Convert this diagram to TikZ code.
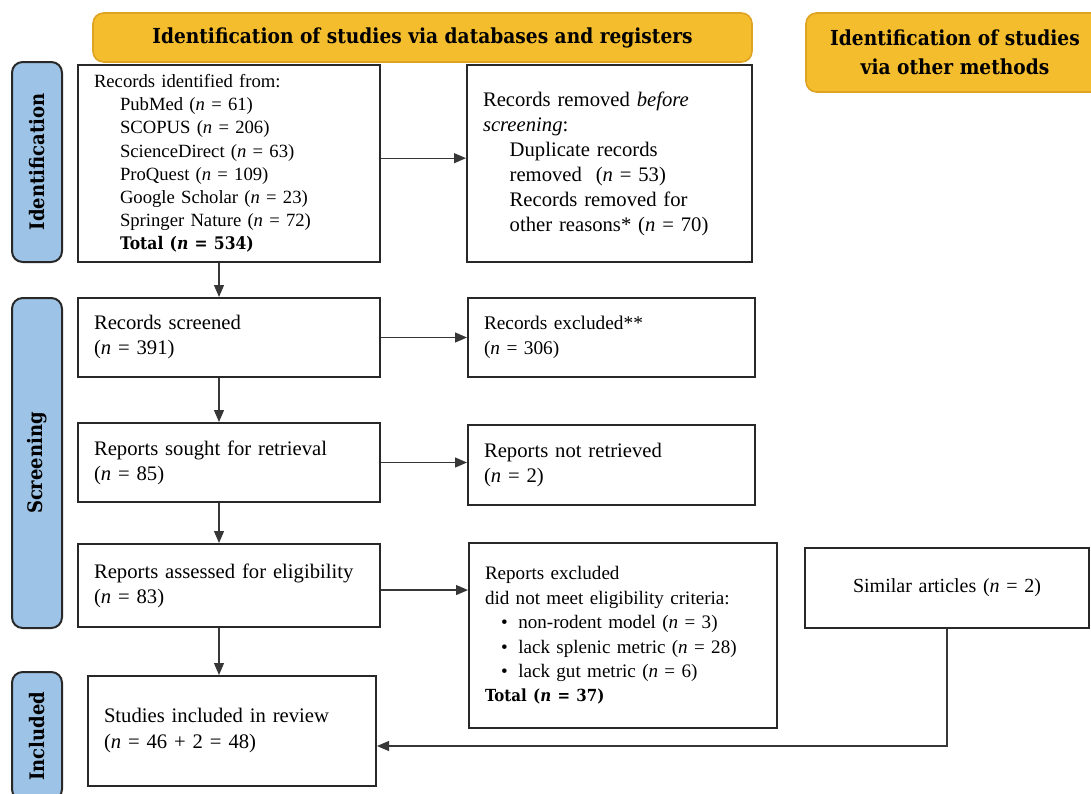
\documentclass[tikz,border=0pt]{standalone}
\usepackage{fontspec}
\setmainfont{Liberation Serif}
\newfontfamily\slab{DejaVu Serif}[FakeStretch=0.9]
\usetikzlibrary{arrows.meta}
\def\PX{0.75pt}
\definecolor{hdr}{RGB}{244,189,45}
\definecolor{hdrb}{RGB}{222,163,35}
\definecolor{side}{RGB}{157,195,230}
\definecolor{ink}{RGB}{40,40,40}
\definecolor{arrc}{RGB}{55,55,55}
\begin{document}
\begin{tikzpicture}[x=0.75pt,y=-0.75pt,
 box/.style={draw=ink, line width=1.5pt, fill=white, align=left, inner xsep=12pt, inner ysep=0pt, font=\fontsize{15.5}{18.75}\selectfont, anchor=center},
 hdrbox/.style={draw=hdrb, line width=1.2pt, fill=hdr, rounded corners=8pt, align=center, inner sep=0pt, font=\slab\bfseries\fontsize{15.5}{22}\selectfont},
 sidebox/.style={draw=ink, line width=1.5pt, fill=side, rounded corners=8pt, inner sep=0pt, font=\slab\bfseries\fontsize{15}{17}\selectfont, rotate=90},
 arr/.style={draw=arrc, line width=0.9pt, -{Triangle[length=9pt,width=7.5pt]}}]
\useasboundingbox (0,0) rectangle (1091,793);

% headers
\node[hdrbox, minimum width=659*\PX, minimum height=49*\PX] (h1) at (422.5,37.5) {Identification of studies via databases and registers};
\node[hdrbox, minimum width=298*\PX, minimum height=79*\PX] (h2) at (955,52.5) {Identification of studies\\via other methods};

% side bars
\node[sidebox, minimum width=200*\PX, minimum height=50*\PX] (s1) at (37,162) {Identification};
\node[sidebox, minimum width=330*\PX, minimum height=50*\PX] (s2) at (37,463) {Screening};
\node[sidebox, minimum width=128*\PX, minimum height=50*\PX] (s3) at (37,736) {Included};

% boxes
\node[box, font=\fontsize{14}{17.4}\selectfont, minimum width=302*\PX, minimum height=197*\PX, text width=270*\PX] (b1) at (229,163.5)
 {Records identified from:\\
  \hspace*{19.5pt}PubMed (\textit{n} = 61)\\
  \hspace*{19.5pt}SCOPUS (\textit{n} = 206)\\
  \hspace*{19.5pt}ScienceDirect (\textit{n} = 63)\\
  \hspace*{19.5pt}ProQuest (\textit{n} = 109)\\
  \hspace*{19.5pt}Google Scholar (\textit{n} = 23)\\
  \hspace*{19.5pt}Springer Nature (\textit{n} = 72)\\
  \hspace*{19.5pt}{\slab\bfseries\fontsize{13}{17.4}\selectfont Total (\textit{n} = 534)}};
\node[box, minimum width=285*\PX, minimum height=197*\PX, text width=253*\PX] (b2) at (609.5,163.5)
 {Records removed \textit{before}\\
  \textit{screening}:\\
  \hspace*{20pt}Duplicate records\\
  \hspace*{20pt}removed~~(\textit{n} = 53)\\
  \hspace*{20pt}Records removed for\\
  \hspace*{20pt}other reasons* (\textit{n} = 70)};
\node[box, minimum width=302*\PX, minimum height=79*\PX, text width=270*\PX] (b3) at (229,337.5)
 {Records screened\\(\textit{n} = 391)};
\node[box, font=\fontsize{14.5}{18.75}\selectfont, minimum width=287*\PX, minimum height=79*\PX, text width=255*\PX] (b4) at (611.5,337.5)
 {Records excluded**\\(\textit{n} = 306)};
\node[box, minimum width=302*\PX, minimum height=79*\PX, text width=270*\PX] (b5) at (229,462.5)
 {Reports sought for retrieval\\(\textit{n} = 85)};
\node[box, minimum width=287*\PX, minimum height=80*\PX, text width=255*\PX] (b6) at (611.5,465)
 {Reports not retrieved\\(\textit{n} = 2)};
\node[box, minimum width=302*\PX, minimum height=83*\PX, text width=270*\PX] (b7) at (229,585.5)
 {Reports assessed for eligibility\\(\textit{n} = 83)};
\node[box, font=\fontsize{14.3}{18.3}\selectfont, minimum width=308*\PX, minimum height=185*\PX, text width=276*\PX] (b8) at (623,635.5)
 {Reports excluded\\
  did not meet eligibility criteria:\\
  \hspace*{12pt}\textbullet\hspace{8pt}non-rodent model (\textit{n} = 3)\\
  \hspace*{12pt}\textbullet\hspace{8pt}lack splenic metric (\textit{n} = 28)\\
  \hspace*{12pt}\textbullet\hspace{8pt}lack gut metric (\textit{n} = 6)\\
  {\slab\bfseries\fontsize{12.5}{18.3}\selectfont Total (\textit{n} = 37)}};
\node[box, align=center, font=\fontsize{15}{18.75}\selectfont, minimum width=284*\PX, minimum height=80*\PX, text width=252*\PX] (b9) at (947,588)
 {Similar articles (\textit{n} = 2)};
\node[box, font=\fontsize{15.5}{19.5}\selectfont, minimum width=286*\PX, minimum height=110*\PX, text width=256*\PX] (b10) at (232,731)
 {Studies included in review\\(\textit{n} = 46 + 2 = 48)};

% connectors
\draw[arr] ([yshift=4pt]b1.east) -- ([yshift=4pt]b1.east -| b2.west);
\draw[arr] ([xshift=-7.5pt]b1.south) -- ([xshift=-7.5pt]b1.south |- b3.north);
\draw[arr] (b3.east) -- (b3.east -| b4.west);
\draw[arr] ([xshift=-7.5pt]b3.south) -- ([xshift=-7.5pt]b3.south |- b5.north);
\draw[arr] (b5.east) -- (b5.east -| b6.west);
\draw[arr] ([xshift=-7.5pt]b5.south) -- ([xshift=-7.5pt]b5.south |- b7.north);
\draw[arr] ([yshift=-3.4pt]b7.east) -- ([yshift=-3.4pt]b7.east -| b8.west);
\draw[arr] ([xshift=-7.5pt]b7.south) -- ([xshift=-7.5pt]b7.south |- b10.north);
\draw[arr] (b9.south) |- ([yshift=-11.25pt]b10.east);
\end{tikzpicture}
\end{document}
